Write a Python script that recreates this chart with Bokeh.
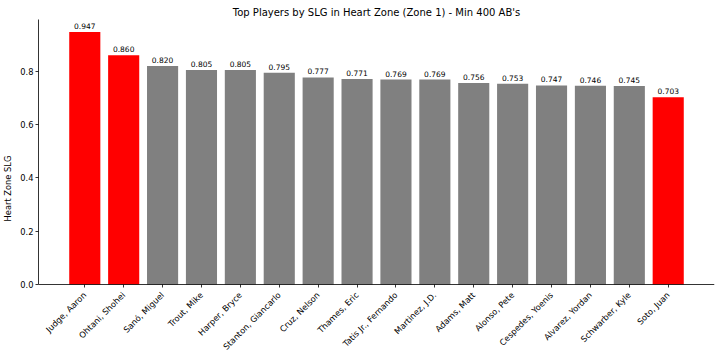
import math
from bokeh.plotting import figure
from bokeh.models import ColumnDataSource, FixedTicker, Range1d, NumeralTickFormatter
from bokeh.core.properties import value
from bokeh.embed import file_html
from bokeh.resources import INLINE

players = ["Judge, Aaron", "Ohtani, Shohei", "Sanó, Miguel", "Trout, Mike", "Harper, Bryce",
           "Stanton, Giancarlo", "Cruz, Nelson", "Thames, Eric", "Tatis Jr., Fernando",
           "Martinez, J.D.", "Adams, Matt", "Alonso, Pete", "Cespedes, Yoenis",
           "Alvarez, Yordan", "Schwarber, Kyle", "Soto, Juan"]
slg = [0.947, 0.860, 0.820, 0.805, 0.805, 0.795, 0.777, 0.771, 0.769, 0.769,
       0.756, 0.753, 0.747, 0.746, 0.745, 0.703]
highlight = ["Judge, Aaron", "Ohtani, Shohei", "Soto, Juan"]
y_ticks = [0.0, 0.2, 0.4, 0.6, 0.8]

FONT = "DejaVu Sans"
W, H = 720, 357
TOP, BOTTOM_PAD = 19, 73          # frame top offset; room below the zero line for names
xs = list(range(len(players)))
colors = ["#ff0000" if p in highlight else "#808080" for p in players]
labels = ["%.3f" % v for v in slg]
src = ColumnDataSource(dict(x=xs, top=slg, color=colors, label=labels))

ymax = max(slg) * 1.05
plot_h = H - TOP - BOTTOM_PAD
ystart = -ymax * BOTTOM_PAD / plot_h

p = figure(width=W, height=H, output_backend="svg", toolbar_location=None,
           title="Top Players by SLG in Heart Zone (Zone 1) - Min 400 AB's",
           x_range=Range1d(-1.19, len(players) - 1 + 1.19),
           y_range=Range1d(ystart, ymax),
           min_border_left=0, min_border_right=6, min_border_top=TOP, min_border_bottom=0)
p.title.align = "center"
p.title.text_font = FONT
p.title.text_font_size = "10px"
p.title.text_font_style = "normal"
p.title.text_color = "black"
p.title.standoff = 4
p.outline_line_color = None
p.xgrid.visible = False
p.ygrid.visible = False
p.background_fill_color = "white"
p.border_fill_color = "white"

p.vbar(x="x", top="top", width=0.8, bottom=0, color="color", line_color=None, source=src)
p.text(x="x", y="top", text="label", source=src, text_align="center", text_baseline="bottom",
       y_offset=-3, text_font_size="7.5px", text_color="black", text_font=value(FONT))

p.xaxis.fixed_location = 0
p.xaxis.ticker = FixedTicker(ticks=xs)
p.xaxis.major_label_overrides = {i: n for i, n in enumerate(players)}
p.xaxis.major_label_orientation = math.pi / 4
p.xaxis.major_label_standoff = 6
p.xaxis.major_label_text_font = FONT
p.xaxis.major_label_text_font_size = "8.3px"
p.xaxis.major_label_text_color = "black"

p.yaxis.bounds = (0, ymax)
p.yaxis.ticker = FixedTicker(ticks=y_ticks)
p.yaxis.formatter = NumeralTickFormatter(format="0.0")
p.yaxis.axis_label = "Heart Zone SLG"
p.yaxis.axis_label_standoff = 4
p.yaxis.major_label_text_font = FONT
p.yaxis.major_label_text_font_size = "8.3px"
p.yaxis.major_label_text_color = "black"
p.yaxis.major_label_standoff = 2
p.yaxis.axis_label_text_font = FONT
p.yaxis.axis_label_text_font_size = "8.3px"
p.yaxis.axis_label_text_font_style = "normal"
p.yaxis.axis_label_text_color = "black"
for ax in (p.xaxis, p.yaxis):
    ax.axis_line_color = "black"
    ax.axis_line_width = 0.8
    ax.major_tick_line_color = "black"
    ax.major_tick_line_width = 0.8
    ax.major_tick_out = 3
    ax.major_tick_in = 0
    ax.minor_tick_line_color = None

open("out.html", "w").write(file_html(p, INLINE))
